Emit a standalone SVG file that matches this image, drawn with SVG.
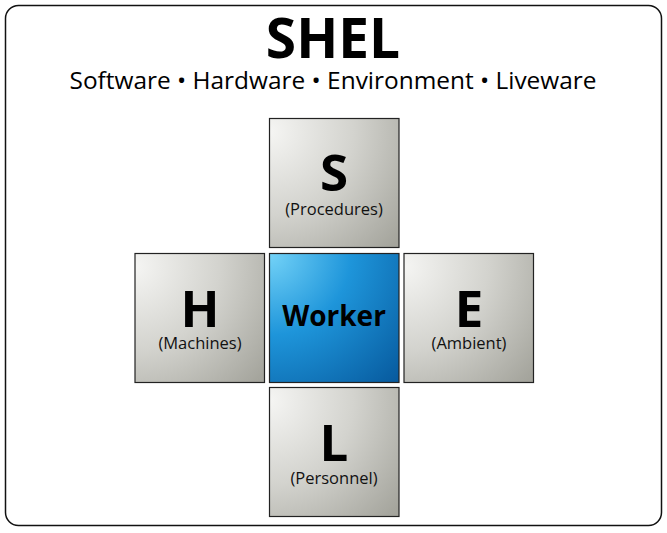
<svg xmlns="http://www.w3.org/2000/svg" width="667" height="533" viewBox="0 0 667 533">
<defs>
<radialGradient id="gray" cx="0" cy="0.1" r="1.3" gradientUnits="objectBoundingBox">
<stop offset="0" stop-color="#f5f5f3"/>
<stop offset="0.5" stop-color="#d3d3ce"/>
<stop offset="1" stop-color="#a4a49c"/>
</radialGradient>
<radialGradient id="blue" cx="0" cy="0" r="1.4" gradientUnits="objectBoundingBox">
<stop offset="0" stop-color="#74d3f8"/>
<stop offset="0.45" stop-color="#1e95da"/>
<stop offset="1" stop-color="#075a9e"/>
</radialGradient>
</defs>
<style>
.box{stroke:#222;stroke-width:1.2}
.g{fill:url(#gray)}
.b{fill:url(#blue)}
.big{font-family:"Open Sans","Noto Sans",sans-serif;font-weight:bold;font-size:51px;fill:#000;text-anchor:middle}
.lbl{font-family:"Open Sans","Noto Sans",sans-serif;font-size:16.5px;fill:#111;text-anchor:middle}
</style>
<rect x="5.5" y="5.5" width="656" height="520" rx="13" fill="#fff" stroke="#111" stroke-width="1.5"/>
<text x="333" y="58" font-family="Open Sans, Noto Sans, sans-serif" font-weight="bold" font-size="55" text-anchor="middle" fill="#000">SHEL</text>
<text x="333" y="89" font-family="Open Sans, Noto Sans, sans-serif" font-size="24" text-anchor="middle" fill="#000" textLength="527" lengthAdjust="spacingAndGlyphs">Software • Hardware • Environment • Liveware</text>
<g id="node-S">
<rect class="box g" x="269.5" y="118.5" width="129.5" height="129"/>
<text class="big" x="334" y="191">S</text>
<text class="lbl" x="334" y="215">(Procedures)</text>
</g>
<g id="node-H">
<rect class="box g" x="135" y="253.5" width="129.5" height="129"/>
<text class="big" x="200" y="327">H</text>
<text class="lbl" x="200" y="349">(Machines)</text>
</g>
<g id="node-Worker">
<rect class="box b" x="269.5" y="253.5" width="129.5" height="129"/>
<text x="334" y="326" font-family="Open Sans, Noto Sans, sans-serif" font-weight="bold" font-size="28" text-anchor="middle" fill="#000">Worker</text>
</g>
<g id="node-E">
<rect class="box g" x="404" y="253.5" width="129.5" height="129"/>
<text class="big" x="469" y="327">E</text>
<text class="lbl" x="469" y="349">(Ambient)</text>
</g>
<g id="node-L">
<rect class="box g" x="269.5" y="387.5" width="129.5" height="129"/>
<text class="big" x="334" y="461">L</text>
<text class="lbl" x="334" y="484">(Personnel)</text>
</g>
<g id="connectors"></g>
</svg>
